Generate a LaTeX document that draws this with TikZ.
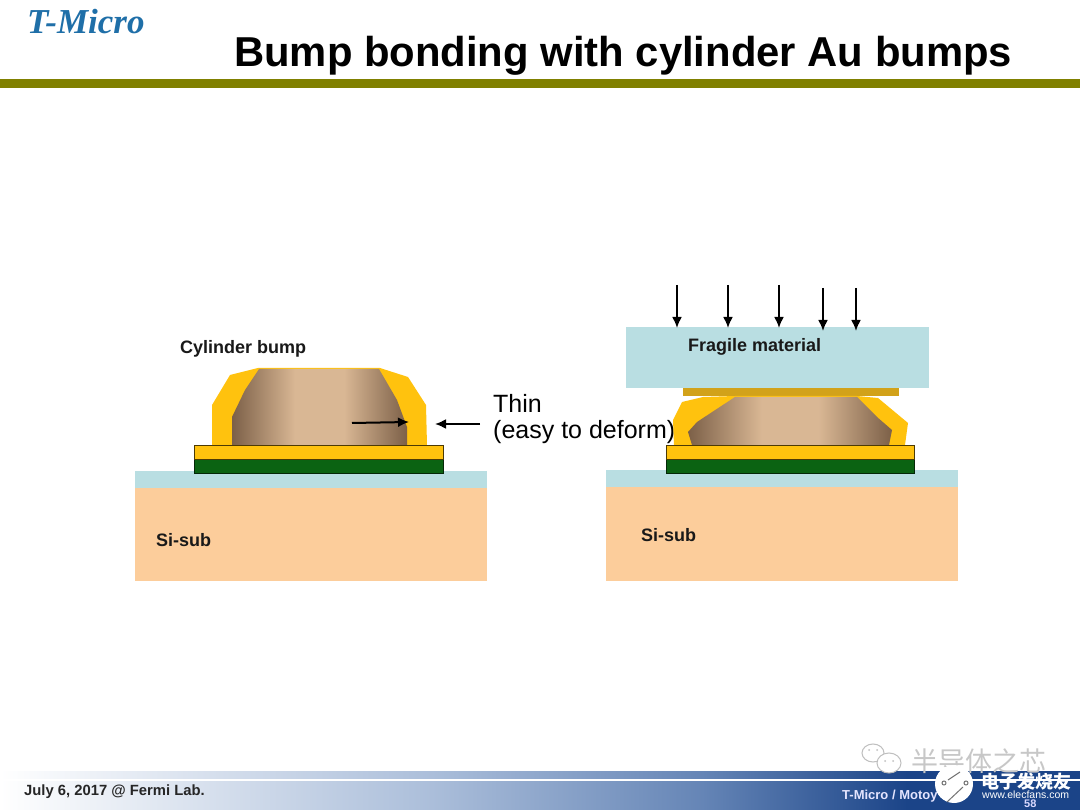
\documentclass[tikz,border=0pt]{standalone}
\usepackage{fontspec}
\setmainfont{Liberation Sans}
\newfontfamily\serifbi[BoldFont={Liberation Serif Bold Italic}]{Liberation Serif}
\newfontfamily\cjk{Noto Sans CJK SC}
\definecolor{gold}{HTML}{FFC20E}
\definecolor{padgreen}{HTML}{0B6312}
\definecolor{icy}{HTML}{B9DEE2}
\definecolor{sand}{HTML}{FCCD9B}
\definecolor{olivebar}{HTML}{808000}
\definecolor{goldbar}{HTML}{D2A21A}
\definecolor{logoblue}{HTML}{1F6FA8}
\definecolor{be}{HTML}{7C6048}
\definecolor{bm}{HTML}{D9B794}
\definecolor{fa}{HTML}{FFFFFF}
\definecolor{fb}{HTML}{ABBEDA}
\definecolor{fc}{HTML}{6585B6}
\definecolor{fd}{HTML}{1B4488}
\pgfdeclarehorizontalshading{bumpshade}{100bp}{color(0bp)=(be);color(25bp)=(be);color(43bp)=(bm);color(57bp)=(bm);color(75bp)=(be);color(100bp)=(be)}
\pgfdeclarehorizontalshading{footshade}{100bp}{color(0bp)=(fa);color(25bp)=(fa);color(45bp)=(fb);color(57.5bp)=(fc);color(67bp)=(fd);color(100bp)=(fd)}
\tikzset{
  lbl/.style={anchor=west,inner sep=0pt,font=\bfseries\fontsize{18}{18}\selectfont,text=black!90},
  big/.style={anchor=west,inner sep=0pt,font=\fontsize{25}{25}\selectfont},
  ptr/.style={draw=black,line width=2pt,-{Latex[length=11pt,width=10pt]}},
  goldshape/.style={fill=gold},
  brownshape/.style={shading=bumpshade},
  padgold/.style={fill=gold,draw=black!70!gold,line width=0.8pt},
  padg/.style={fill=padgreen,draw=black!60!padgreen,line width=0.8pt},
  bubble/.style={black!25,fill=white,line width=1pt},
}
\usetikzlibrary{arrows.meta}
\begin{document}
\begin{tikzpicture}[x=1pt,y=-1pt]
\useasboundingbox (0,0) rectangle (1080,810);
\fill[white] (0,0) rectangle (1080,810);
% header
\node[anchor=west,inner sep=0pt,text=logoblue,font=\serifbi\bfseries\fontsize{35}{35}\selectfont] (logo) at (27,21.5) {T-Micro};
\node[anchor=west,inner sep=0pt,font=\bfseries\fontsize{41.8}{42}\selectfont] (title) at (234,56) {Bump bonding with cylinder Au bumps};
\fill[olivebar] (0,79) rectangle (1080,88);
% left stack
\fill[icy] (135,471) rectangle (487,488);
\fill[sand] (135,488) rectangle (487,581);
\path[goldshape] (212,445) -- (212,405) -- (230,375) -- (258,368) -- (380,368) -- (408,377) -- (426,405) -- (427,445) -- cycle;
\path[brownshape] (232,445) -- (232,417) -- (245,390) -- (259,369) -- (379,369) -- (397,400) -- (407,427) -- (407,445) -- cycle;
\draw[padg] (194,459) rectangle (443,473);
\draw[padgold] (194,445) rectangle (443,459);
\node[lbl] (cyl) at (180,349) {Cylinder bump};
\node[lbl] (sil) at (156,540) {Si-sub};
\coordinate (a1s) at (352,423); \coordinate (a1e) at (409,422);
\coordinate (a2s) at (480,424); \coordinate (a2e) at (435,424);
\draw[ptr] (a1s) -- (a1e);
\draw[ptr] (a2s) -- (a2e);
\node[big] (thin) at (493,403) {Thin};
\node[big] (easy) at (493,432) {(easy to deform)};
% right stack
\fill[icy] (606,470) rectangle (958,487);
\fill[sand] (606,487) rectangle (958,581);
\fill[icy] (626,327) rectangle (929,388);
\fill[goldbar] (683,388) rectangle (899,396);
\path[goldshape] (674,445) -- (673,420) -- (682,402) -- (703,397) -- (735,396) -- (857,396) -- (878,398) -- (908,423) -- (905,445) -- cycle;
\path[brownshape] (692,445) -- (688,432) -- (697,422) -- (735,397) -- (857,397) -- (877,417) -- (892,430) -- (889,445) -- cycle;
\draw[padg] (666,459) rectangle (914,473);
\draw[padgold] (666,445) rectangle (914,459);
\node[lbl] (fra) at (688,347) {Fragile material};
\node[lbl] (sir) at (641,535) {Si-sub};
\foreach \n/\x/\a/\b in {p1/677/285/328,p2/728/285/328,p3/779/285/328,p4/823/288/331,p5/856/288/331}{
  \coordinate (\n s) at (\x,\a); \coordinate (\n e) at (\x,\b);
  \draw[ptr] (\n s) -- (\n e);
}
% footer
\shade[shading=footshade] (0,771) rectangle (1080,778);
\shade[shading=footshade] (0,781) rectangle (1080,810);
\node[anchor=west,inner sep=0pt,text=black!85,font=\bfseries\fontsize{14.8}{15}\selectfont] (date) at (24,792) {July 6, 2017 @ Fermi Lab.};
\node[anchor=west,inner sep=0pt,text=white!90!blue,font=\bfseries\fontsize{13}{13}\selectfont] (org) at (842,796) {T-Micro / Motoy};
\node[anchor=west,inner sep=0pt,text=white!85!blue,font=\bfseries\fontsize{11}{11}\selectfont] (pg) at (1024,804) {58};
% watermark
\node[anchor=west,inner sep=0pt,text=black!22,font=\cjk\fontsize{27}{27}\selectfont] (wm) at (911,761) {半导体之芯};
\draw[bubble] (873,753) circle [x radius=11,y radius=9];
\draw[bubble] (889,763) circle [x radius=12,y radius=10];
\fill[black!25] (869,750) circle (1) (877,750) circle (1) (885,761) circle (1) (893,761) circle (1);
\fill[white] (954,784) circle (19);
\draw[black!55,line width=1pt] (948,780) -- (960,772);
\draw[black!55,line width=1pt] (963,787) -- (947,802);
\draw[black!55,line width=1pt,fill=white] (944,783) circle (2);
\draw[black!55,line width=1pt,fill=white] (966,783) circle (2);
\node[anchor=west,inner sep=0pt,text=white,font=\cjk\bfseries\fontsize{18}{18}\selectfont] (ef) at (981,782) {电子发烧友};
\node[anchor=west,inner sep=0pt,text=white,font=\fontsize{10.5}{10.5}\selectfont] (url) at (982,795) {www.elecfans.com};
\end{tikzpicture}
\end{document}
